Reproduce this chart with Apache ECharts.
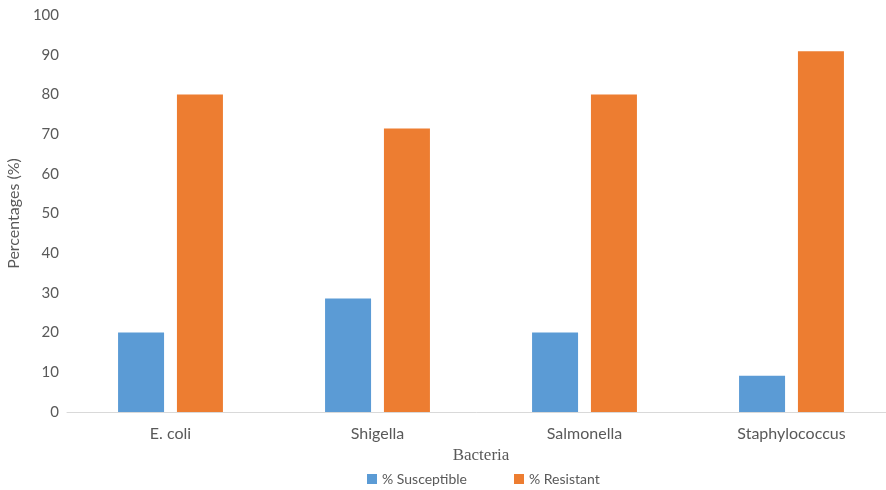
<!DOCTYPE html>
<html>
<head>
<meta charset="utf-8">
<script src="https://cdn.jsdelivr.net/npm/echarts@6/dist/echarts.min.js"></script>
<style>
  html, body { margin: 0; padding: 0; background: #ffffff; }
  #chart { width: 886px; height: 490px; }
</style>
</head>
<body>
<div id="chart"></div>
<script>
// Antibiotic susceptibility by bacterial isolate
const categories = ['E. coli', 'Shigella', 'Salmonella', 'Staphylococcus'];
const susceptible = [20, 28.6, 20, 9.1];
const resistant = [80, 71.4, 80, 90.9];
const yTicks = { min: 0, max: 100, interval: 10 };

const chart = echarts.init(document.getElementById('chart'));
const labelFont = 'Lato, "Open Sans", sans-serif';

chart.setOption({
  animation: false,
  backgroundColor: '#ffffff',
  // plot area runs slightly past the right edge of the canvas
  grid: {
    left: 67, width: 828, top: 15, height: 397,
    containLabel: false,
    outerBoundsMode: 'none'
  },
  legend: {
    top: 472,
    left: 367,
    padding: 0,
    itemWidth: 10,
    itemHeight: 10,
    itemGap: 47,
    icon: 'rect',
    textStyle: { color: '#595959', fontSize: 14, fontFamily: labelFont },
    data: ['% Susceptible', '% Resistant']
  },
  xAxis: {
    type: 'category',
    data: categories,
    name: 'Bacteria',
    nameLocation: 'middle',
    nameGap: 34,
    nameTextStyle: { color: '#595959', fontSize: 17, fontFamily: '"Liberation Serif", serif' },
    axisLine: { lineStyle: { color: '#d9d9d9', width: 1 } },
    axisTick: { show: false },
    axisLabel: { color: '#595959', fontSize: 16, fontFamily: labelFont, margin: 14 }
  },
  yAxis: {
    type: 'value',
    min: yTicks.min,
    max: yTicks.max,
    interval: yTicks.interval,
    name: 'Percentages (%)',
    nameLocation: 'middle',
    nameGap: 40,
    nameTextStyle: { color: '#595959', fontSize: 16, fontFamily: labelFont },
    axisLine: { show: false },
    axisTick: { show: false },
    splitLine: { show: false },
    axisLabel: { color: '#595959', fontSize: 15, fontFamily: labelFont, margin: 8 }
  },
  series: [
    {
      name: '% Susceptible',
      type: 'bar',
      data: susceptible,
      barWidth: 46,
      barGap: '28%',
      itemStyle: { color: '#5b9bd5' }
    },
    {
      name: '% Resistant',
      type: 'bar',
      data: resistant,
      barWidth: 46,
      itemStyle: { color: '#ed7d31' }
    }
  ]
});
</script>
</body>
</html>
